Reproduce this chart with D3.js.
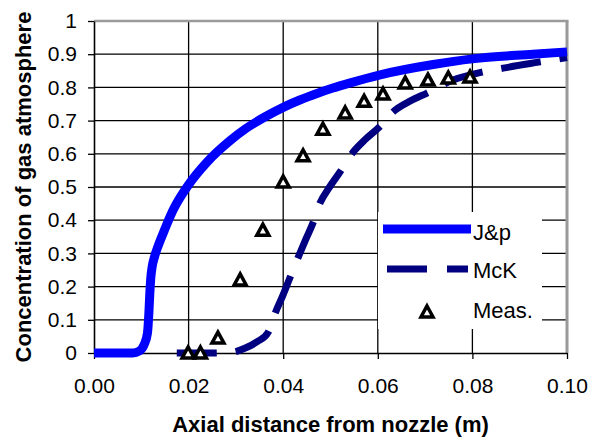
<!DOCTYPE html>
<html lang="en">
<head>
  <meta charset="utf-8">
  <title>Concentration of gas atmosphere</title>
  <script src="https://d3js.org/d3.v7.min.js"></script>
  <style>
    body { margin: 0; background: #fff; }
    text { font-family: "Liberation Sans", Arial, sans-serif; }
  </style>
</head>
<body>
	<script type="text/javascript">

	// tick values
	var xTicks = [0, 0.02, 0.04, 0.06, 0.08, 0.10];
	var yTicks = [0, 0.1, 0.2, 0.3, 0.4, 0.5, 0.6, 0.7, 0.8, 0.9, 1];

	// J&p model curve
	var jpX = [0, 0.0082, 0.0096, 0.0106, 0.0113, 0.0116, 0.0118, 0.0120, 0.0123, 0.0128, 0.0135, 0.0146,
	           0.0167, 0.0199, 0.0239, 0.0288, 0.032, 0.036, 0.040, 0.0435, 0.047, 0.0505, 0.054,
	           0.0605, 0.0717, 0.080, 0.0928, 0.100];
	var jpY = [0, 0, 0.006, 0.025, 0.06, 0.12, 0.18, 0.225, 0.26, 0.29, 0.32, 0.36,
	           0.43, 0.505, 0.575, 0.64, 0.675, 0.71, 0.74, 0.762, 0.781, 0.798, 0.813,
	           0.838, 0.869, 0.886, 0.90, 0.907];

	// McK model curve
	var mckX = [0.0175, 0.025, 0.029, 0.032, 0.0345, 0.0368, 0.0383, 0.040, 0.0414, 0.0431, 0.0447,
	            0.0463, 0.0478, 0.0498, 0.052, 0.0545, 0.0575, 0.0605, 0.0632, 0.067, 0.0704,
	            0.0759, 0.082, 0.0865, 0.094, 0.100];
	var mckY = [0, 0, 0.002, 0.015, 0.034, 0.062, 0.12, 0.176, 0.226, 0.286, 0.34,
	            0.392, 0.452, 0.50, 0.545, 0.60, 0.645, 0.683, 0.726, 0.76, 0.783,
	            0.822, 0.846, 0.858, 0.876, 0.89];

	// measurements
	var measX = [0.0199, 0.0225, 0.0262, 0.0309, 0.0357, 0.0400, 0.0442, 0.0484, 0.0531, 0.0571,
	             0.0611, 0.0658, 0.0706, 0.0749, 0.0795];
	var measY = [0, 0, 0.045, 0.22, 0.37, 0.515, 0.594, 0.674, 0.723, 0.758,
	             0.78, 0.813, 0.822, 0.828, 0.831];

	var seriesNames = ["J&p", "McK", "Meas."];

	var svg_width = 590;
	var svg_height = 441;
	var plotLeft = 94, plotRight = 567, plotTop = 21, plotBottom = 353;

	var svg = d3.select("body")
				.append("svg")
				.attr("width", svg_width)
				.attr("height", svg_height);

	var x = d3.scaleLinear().domain([0, 0.1]).range([plotLeft, plotRight]);
	var y = d3.scaleLinear().domain([0, 1]).range([plotBottom, plotTop]);

	// grid
	svg.selectAll("line.hgrid")
	   .data(yTicks.filter(function(d) { return d > 0 && d < 1; }))
	   .enter()
	   .append("line")
	   .attr("class", "hgrid")
	   .attr("x1", plotLeft).attr("x2", plotRight)
	   .attr("y1", function(d) { return y(d); })
	   .attr("y2", function(d) { return y(d); })
	   .attr("stroke", "#000")
	   .attr("stroke-width", 1.3);

	svg.selectAll("line.vgrid")
	   .data(xTicks.filter(function(d) { return d > 0 && d < 0.1; }))
	   .enter()
	   .append("line")
	   .attr("class", "vgrid")
	   .attr("y1", plotTop).attr("y2", plotBottom)
	   .attr("x1", function(d) { return x(d); })
	   .attr("x2", function(d) { return x(d); })
	   .attr("stroke", "#000")
	   .attr("stroke-width", 1.3);

	// grey plot border top and right
	svg.append("line")
	   .attr("x1", plotLeft).attr("x2", plotRight + 1.5)
	   .attr("y1", plotTop).attr("y2", plotTop)
	   .attr("stroke", "#9a9a9a").attr("stroke-width", 2.5);
	svg.append("line")
	   .attr("x1", plotRight).attr("x2", plotRight)
	   .attr("y1", plotTop).attr("y2", plotBottom)
	   .attr("stroke", "#9a9a9a").attr("stroke-width", 3);

	// legend background hides the grid
	svg.append("rect")
	   .attr("x", 378).attr("y", 212)
	   .attr("width", 164).attr("height", 117)
	   .attr("fill", "#fff");

	// axes
	var yAxis = d3.axisLeft(y)
				.tickValues(yTicks)
				.tickSize(6)
				.tickSizeOuter(0)
				.tickPadding(11)
				.tickFormat(function(d) { return d === 0 ? "0" : d === 1 ? "1" : d.toFixed(1); });
	var gy = svg.append("g")
				.attr("transform", "translate(" + plotLeft + ",0)")
				.call(yAxis);

	var xAxis = d3.axisBottom(x)
				.tickValues(xTicks)
				.tickSize(6)
				.tickSizeOuter(0)
				.tickFormat(function(d) { return d.toFixed(2); });
	var gx = svg.append("g")
				.attr("transform", "translate(0," + plotBottom + ")")
				.call(xAxis);

	[gx, gy].forEach(function(g) {
		g.select(".domain").attr("stroke", "#000").attr("stroke-width", 1.6);
		g.selectAll(".tick line").attr("stroke", "#000").attr("stroke-width", 1.3);
		g.selectAll("text")
		 .attr("font-family", "Liberation Sans, Arial, sans-serif")
		 .attr("font-size", "21px")
		 .attr("fill", "#000");
	});
	gx.selectAll("text").attr("y", 40).attr("dy", 0);

	// lines
	var line = d3.line()
				.x(function(d) { return x(d[0]); })
				.y(function(d) { return y(d[1]); })
				.curve(d3.curveMonotoneX);

	var mckData = mckX.map(function(v, i) { return [v, mckY[i]]; });
	var jpData = jpX.map(function(v, i) { return [v, jpY[i]]; });
	var measData = measX.map(function(v, i) { return [v, measY[i]]; });

	svg.append("path")
	   .datum(mckData)
	   .attr("d", line)
	   .attr("fill", "none")
	   .attr("stroke", "#000080")
	   .attr("stroke-width", 7)
	   .attr("stroke-dasharray", "40,19");

	svg.append("path")
	   .datum(jpData)
	   .attr("d", line)
	   .attr("fill", "none")
	   .attr("stroke", "#0000ff")
	   .attr("stroke-width", 9);

	var tri = "M0,-6L6,5L-6,5Z";

	svg.selectAll("path.meas")
	   .data(measData)
	   .enter()
	   .append("path")
	   .attr("class", "meas")
	   .attr("d", tri)
	   .attr("transform", function(d) { return "translate(" + x(d[0]) + "," + y(d[1]) + ")"; })
	   .attr("fill", "#fff")
	   .attr("stroke", "#000")
	   .attr("stroke-width", 3.5)
	   .attr("stroke-linejoin", "miter");

	// legend
	svg.append("line")
	   .attr("x1", 383).attr("x2", 471).attr("y1", 229).attr("y2", 229)
	   .attr("stroke", "#0000ff").attr("stroke-width", 9);
	svg.append("line")
	   .attr("x1", 387).attr("x2", 468).attr("y1", 269).attr("y2", 269)
	   .attr("stroke", "#000080").attr("stroke-width", 7)
	   .attr("stroke-dasharray", "40,20");
	svg.append("path")
	   .attr("d", tri)
	   .attr("transform", "translate(427,312)")
	   .attr("fill", "#fff").attr("stroke", "#000").attr("stroke-width", 3.5);

	svg.selectAll("text.legend")
	   .data(seriesNames)
	   .enter()
	   .append("text")
	   .attr("class", "legend")
	   .text(function(d) { return d; })
	   .attr("x", 473)
	   .attr("y", function(d, i) { return [240, 278, 318][i]; })
	   .attr("font-size", "22px")
	   .attr("fill", "#000");

	// axis titles
	svg.append("text")
	   .text("Axial distance from nozzle (m)")
	   .attr("x", (plotLeft + plotRight) / 2)
	   .attr("y", 432)
	   .attr("text-anchor", "middle")
	   .attr("font-weight", "bold")
	   .attr("font-size", "22px")
	   .attr("fill", "#000");

	svg.append("text")
	   .text("Concentration of gas atmosphere")
	   .attr("transform", "translate(31," + (plotTop + plotBottom) / 2 + ") rotate(-90)")
	   .attr("text-anchor", "middle")
	   .attr("font-weight", "bold")
	   .attr("font-size", "22px")
	   .attr("fill", "#000");

	</script>
</body>
</html>
